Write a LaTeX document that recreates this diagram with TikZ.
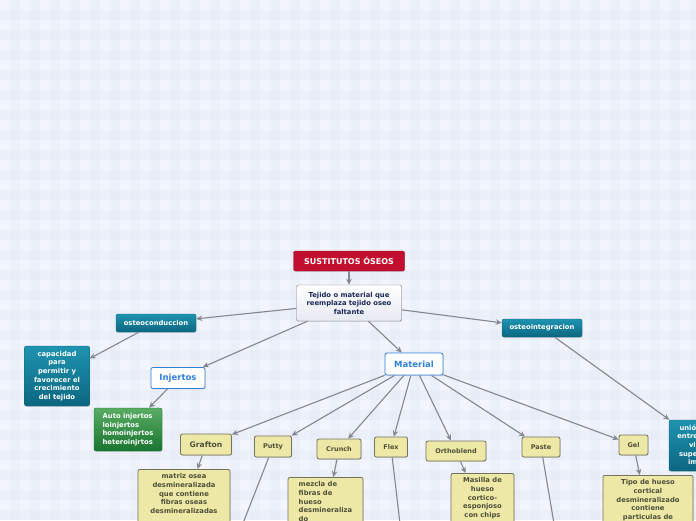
\documentclass[tikz,border=0pt]{standalone}
\usepackage{fontspec}
\setmainfont{DejaVu Sans}
\usetikzlibrary{arrows.meta,shadows}

\definecolor{bgLight}{HTML}{F2F5FE}
\definecolor{bgBand}{HTML}{DDE2EE}
\definecolor{titleRed}{HTML}{C20F30}
\definecolor{tealTop}{HTML}{1E93B0}
\definecolor{tealBottom}{HTML}{0C6680}
\definecolor{greenTop}{HTML}{58AC62}
\definecolor{greenBottom}{HTML}{1A7530}
\definecolor{khaki}{HTML}{EEE8A6}
\definecolor{khakiText}{HTML}{4F4F3A}
\definecolor{branchBlue}{HTML}{2F80DC}
\definecolor{navyText}{HTML}{1C2858}
\definecolor{edgeGrey}{HTML}{85868E}

\begin{document}
\begin{tikzpicture}[
        x=1pt, y=-1pt,
        boxNode/.style={rectangle, rounded corners=2pt, inner sep=1pt, align=center,
            drop shadow={opacity=0.25, shadow xshift=0.7pt, shadow yshift=-0.9pt}},
        titleNode/.style={boxNode, draw=titleRed!80!black, fill=titleRed, text=white,
            font=\fontsize{8}{9}\selectfont\bfseries},
        centerNode/.style={boxNode, draw=edgeGrey!90!black, top color=white, bottom color=bgLight!90!gray,
            text=navyText, font=\fontsize{6.8}{8.5}\selectfont\bfseries},
        tealNode/.style={boxNode, draw=tealBottom, top color=tealTop, bottom color=tealBottom,
            text=white, font=\fontsize{6.8}{8.6}\selectfont\bfseries},
        greenNode/.style={boxNode, draw=greenBottom, top color=greenTop, bottom color=greenBottom,
            text=white, font=\fontsize{6.8}{8.6}\selectfont\bfseries},
        branchNode/.style={boxNode, draw=branchBlue, line width=0.8pt, fill=white,
            text=branchBlue, font=\fontsize{8.5}{10}\selectfont\bfseries},
        itemNode/.style={boxNode, draw=khakiText!80, line width=0.8pt, fill=khaki,
            text=khakiText, minimum height=20pt, font=\fontsize{6.5}{8}\selectfont\bfseries},
        noteNode/.style={itemNode, anchor=north, inner sep=4pt, font=\fontsize{6.8}{8.8}\selectfont\bfseries},
        edge/.style={draw=edgeGrey, line width=1.1pt, -{Stealth[length=6pt,width=5.5pt]}}
    ]
        \useasboundingbox (0,0) rectangle (696,520);
        \clip (0,0) rectangle (696,520);

        % Background
        \fill[bgLight] (0,0) rectangle (696,520);
        \foreach \k in {0,20,...,520}
            \fill[bgBand, opacity=0.25] (0,\k+10) rectangle (696,\k+20);
        \foreach \k in {0,20,...,680}
            \fill[bgBand, opacity=0.25] (\k+10,0) rectangle (\k+20,520);

        % Root node
        \node[titleNode, minimum width=111pt, minimum height=20pt] (root) at (349,261) {SUSTITUTOS ÓSEOS};
        \node[centerNode, minimum width=105pt, minimum height=36pt] (def) at (349,303)
            {Tejido o material que\\reemplaza tejido oseo\\faltante};

        % Main branches
        \node[tealNode, minimum width=80pt, minimum height=18pt] (conduc) at (156,323) {osteoconduccion};
        \node[tealNode, minimum width=80pt, minimum height=18pt] (integ) at (542,328) {osteointegracion};
        \node[branchNode, minimum width=54pt, minimum height=21pt] (injertos) at (178,378) {Injertos};
        \node[branchNode, minimum width=58pt, minimum height=22pt] (material) at (414,364) {Material};

        % Details of the branches
        \node[tealNode, minimum width=65pt, minimum height=60pt] (capac) at (57,376)
            {capacidad\\para\\permitir y\\favorecer el\\crecimiento\\del tejido};
        \node[tealNode, minimum width=72pt, minimum height=51pt] (union) at (705,445.5)
            {unión directa\\entre el hueso\\vivo y la\\superficie del\\implante};
        \node[greenNode, align=left, minimum width=68pt, minimum height=43pt] (tipos) at (128,429.5)
            {Auto injertos\\loinjertos\\homoinjertos\\heteroinjrtos};

        % Materials
        \node[itemNode, minimum width=51pt, minimum height=21pt, font=\fontsize{7.6}{9}\selectfont\bfseries] (grafton) at (206,444.5) {Grafton};
        \node[itemNode, minimum width=37pt, minimum height=21pt] (putty) at (273,446.5) {Putty};
        \node[itemNode, minimum width=44pt] (crunch) at (339,449) {Crunch};
        \node[itemNode, minimum width=33pt] (flex) at (391,447) {Flex};
        \node[itemNode, minimum width=60pt] (ortho) at (456,451) {Orthoblend};
        \node[itemNode, minimum width=38pt] (paste) at (541,447) {Paste};
        \node[itemNode, minimum width=29pt] (gel) at (633.5,445) {Gel};

        % Notes on the materials
        \node[noteNode, minimum width=92pt, text depth=30pt] (grafNote) at (184,469)
            {matriz osea\\desmineralizada\\que contiene\\fibras oseas\\desmineralizadas};
        \node[noteNode, align=left, minimum width=75pt, text depth=30pt] (crunNote) at (325.5,477)
            {mezcla de\\fibras de\\hueso\\desmineraliza\\do};
        \node[noteNode, minimum width=63pt, text depth=30pt] (orthoNote) at (482.5,473)
            {Masilla de\\hueso\\cortico-\\esponjoso\\con chips};
        \node[noteNode, minimum width=90pt, text depth=30pt] (gelNote) at (648,475)
            {Tipo de hueso\\cortical\\desmineralizado\\contiene\\particulas de};
        \coordinate (puttyNote) at (213,600);
        \coordinate (flexNote) at (409,600);
        \coordinate (pasteNote) at (567,600);

        % Edges
        \draw[edge] (root) -- (def);
        \draw[edge] (def) -- (conduc);
        \draw[edge] (def) -- (integ);
        \draw[edge] (def) -- (injertos);
        \draw[edge] (def) -- (material);
        \draw[edge] (conduc) -- (capac);
        \draw[edge] (integ) -- (union);
        \draw[edge] (injertos) -- (tipos);
        \foreach \m in {grafton,putty,crunch,flex,ortho,paste,gel}
            \draw[edge] (material) -- (\m);
        \draw[edge] (grafton) -- (grafNote);
        \draw[edge] (crunch) -- (crunNote);
        \draw[edge] (ortho) -- (orthoNote);
        \draw[edge] (gel) -- (gelNote);
        \draw[edge] (putty) -- (puttyNote);
        \draw[edge] (flex) -- (flexNote);
        \draw[edge] (paste) -- (pasteNote);
    \end{tikzpicture}
\end{document}
